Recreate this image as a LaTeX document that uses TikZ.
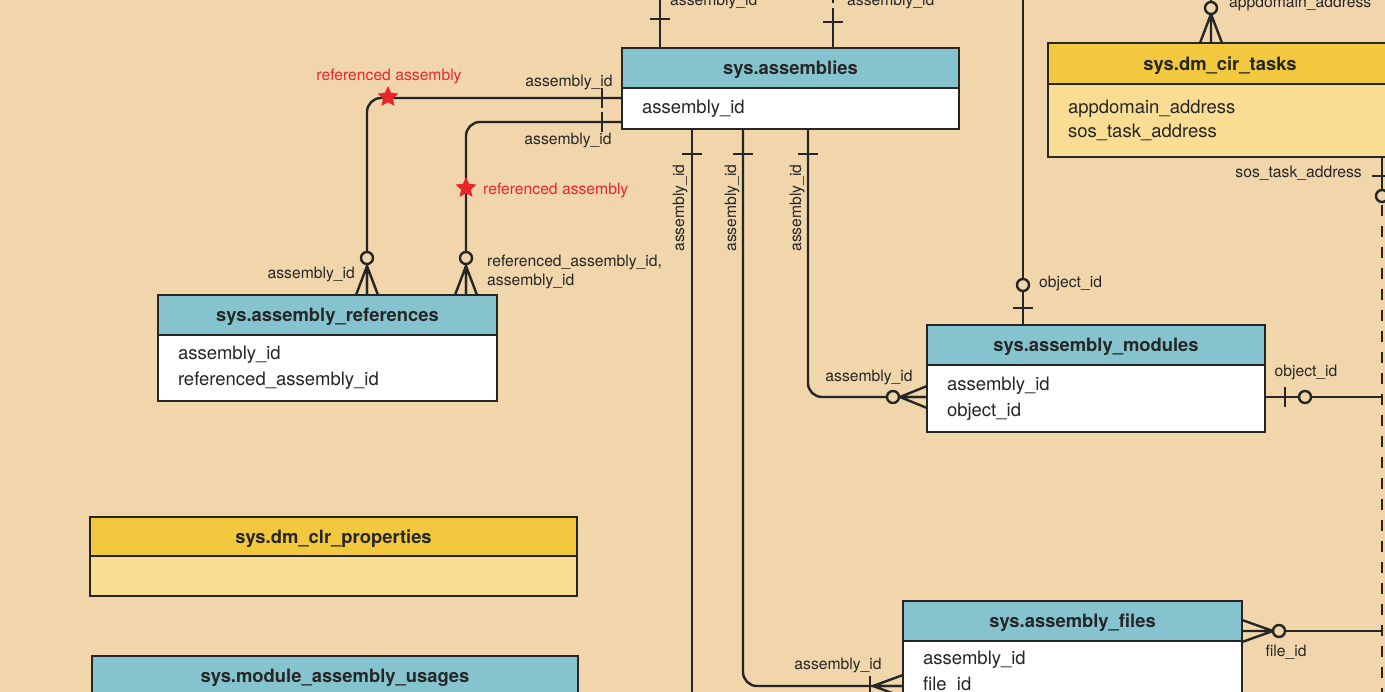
\documentclass[tikz,border=0pt]{standalone}
\usepackage{fontspec}
\setmainfont{TeX Gyre Heros}
\usetikzlibrary{positioning,shapes.geometric}

\definecolor{page}{RGB}{241,214,172}
\definecolor{tablehead}{RGB}{133,196,206}
\definecolor{dmvhead}{RGB}{242,200,62}
\definecolor{dmvbody}{RGB}{248,221,146}
\definecolor{ink}{RGB}{38,38,38}
\definecolor{note}{RGB}{232,38,44}
\def\titlefont{\fontsize{18.4}{22}\selectfont\bfseries}
\def\fieldfont{\fontsize{18.5}{26}\selectfont}
\def\labelfont{\fontsize{15.7}{19}\selectfont}
\tikzset{head/.style={draw=ink, line width=2.8pt, fill=tablehead, minimum height=40pt, text depth=0pt,
        inner sep=0pt, outer sep=0pt, font=\titlefont, text=ink, anchor=north west},
    fields/.style={draw=ink, line width=2.8pt, fill=white, inner xsep=20pt, inner ysep=0pt,
        outer sep=0pt, font=\fieldfont, text=ink, align=left},
    link/.style={draw=ink, line width=2.4pt, rounded corners=14pt},
    keylabel/.style={font=\labelfont, text=ink, inner sep=0pt},
    notelabel/.style={font=\labelfont, text=note, inner sep=0pt},
    refstar/.style={star, star points=5, star point ratio=2.1, fill=note, inner sep=0pt, minimum size=22pt},
    onebar/.pic={\draw[ink, line width=2.4pt] (#1,-10) -- (#1,10);},
    ring/.pic={\draw[ink, line width=2.4pt, fill=page] (#1,0) circle (6pt);},
    crowfoot/.pic={\draw[ink, line width=2.4pt] (0,-11) -- (#1,0) -- (0,11) (0,0) -- (#1,0);}}

\begin{document}
\begin{tikzpicture}[x=1pt, y=-1pt]
\useasboundingbox[fill=page] (0,0) rectangle (1385,692);

% tables
\node[head, minimum width=337pt] (asm) at (622,48) {sys.assemblies};
\node[fields, below=0pt of asm, text width=297pt, minimum height=41pt] (asmf) {assembly\_id};
\node[head, minimum width=339pt] (ref) at (158,295) {sys.assembly\_references};
\node[fields, below=0pt of ref, text width=299pt, minimum height=66pt] (reff) {assembly\_id\\referenced\_assembly\_id};
\node[head, minimum width=338pt] (mod) at (927,325) {sys.assembly\_modules};
\node[fields, below=0pt of mod, text width=298pt, minimum height=67pt] (modf) {assembly\_id\\object\_id};
\node[head, fill=dmvhead, minimum width=344pt, minimum height=41pt] (task) at (1048,43) {sys.dm\_cir\_tasks};
\node[fields, fill=dmvbody, below=0pt of task, text width=304pt, minimum height=73pt,
    font=\fontsize{18.5}{24}\selectfont] (taskf) {appdomain\_address\\sos\_task\_address\\[3pt]};
\node[head, minimum width=339pt] (files) at (903,601) {sys.assembly\_files};
\node[fields, below=0pt of files, text width=299pt, minimum height=62pt] (filesf) {assembly\_id\\file\_id};
\node[head, fill=dmvhead, minimum width=487pt, minimum height=39pt] (props) at (90,517) {sys.dm\_clr\_properties};
\node[fields, fill=dmvbody, below=0pt of props, text width=447pt, minimum height=40pt] (propsf) {};
\node[head, minimum width=486pt] (usage) at (92,656) {sys.module\_assembly\_usages};

% free ends at the page edge
\coordinate (top1) at (660,0);
\coordinate (top2) at (833,0);
\coordinate (top3) at (1023,0);
\coordinate (top4) at (1211,0);
\coordinate (low1) at (692,700);
\coordinate (low2) at (1382,700);
\coordinate (side1) at (1382,397);
\coordinate (side2) at (1382,631);

% connectors
\draw[link] (asmf.west |- 0,98) -| (ref.north -| 367,0);
\draw[link] (asmf.west |- 0,122) -| (ref.north -| 466,0);
\draw[link] (asm.north -| top1) -- (top1);
\draw[link, dash pattern=on 40pt off 5pt on 10pt] (asm.north -| top2) -- (top2);
\draw[link] (asmf.south -| low1) -- (low1);
\draw[link] (asmf.south -| 743,0) |- (filesf.west |- 0,686);
\draw[link] (asmf.south -| 808,0) |- (modf.west |- 0,397);
\draw[link] (mod.north -| top3) -- (top3);
\draw[link] (modf.east |- side1) -- (side1);
\draw[link] (task.north -| top4) -- (top4);
\draw[link] (taskf.south -| low2) -- ++(0,39);
\draw[link, dash pattern=on 11pt off 10pt] (taskf.south -| low2) ++(0,48) -- (low2);
\draw[link] (files.east |- side2) -- (side2);

% ends
\pic[rotate=180] at (asmf.west |- 0,98) {onebar=20};
\pic[rotate=180] at (asmf.west |- 0,122) {onebar=20};
\pic[rotate=90] at (asm.north -| top1) {onebar=29};
\pic[rotate=90] at (asm.north -| top2) {onebar=26};
\pic[rotate=-90] at (asmf.south -| low1) {onebar=25};
\pic[rotate=-90] at (asmf.south -| 743,0) {onebar=25};
\pic[rotate=-90] at (asmf.south -| 808,0) {onebar=25};
\foreach \x in {367,466} {
    \pic[rotate=90] at (ref.north -| \x,0) {crowfoot=29};
    \pic[rotate=90] at (ref.north -| \x,0) {ring=37};
}
\pic[rotate=180] at (modf.west |- 0,397) {crowfoot=27};
\pic[rotate=180] at (modf.west |- 0,397) {ring=34};
\pic[rotate=90] at (mod.north -| top3) {onebar=17};
\pic[rotate=90] at (mod.north -| top3) {ring=40};
\pic at (modf.east |- side1) {onebar=20};
\pic at (modf.east |- side1) {ring=40};
\pic[rotate=90] at (task.north -| top4) {crowfoot=29};
\pic[rotate=90] at (task.north -| top4) {ring=35};
\pic[rotate=-90] at (taskf.south -| low2) {onebar=19};
\pic[rotate=-90] at (taskf.south -| low2) {ring=39};
\pic at (files.east |- side2) {crowfoot=31};
\pic at (files.east |- side2) {ring=37};
\pic[rotate=180] at (filesf.west |- 0,686) {crowfoot=30};
\pic[rotate=180] at (filesf.west |- 0,686) {onebar=33};

% labels
\node[refstar] (star1) at (388,97) {};
\node[notelabel] (note1) at (389,76) {referenced assembly};
\node[refstar] (star2) at (466,188) {};
\node[notelabel, anchor=west] (note2) at (483,190) {referenced assembly};
\node[keylabel] (k1) at (569,82) {assembly\_id};
\node[keylabel] (k2) at (568,140) {assembly\_id};
\node[keylabel, anchor=east] (k3) at (355,274) {assembly\_id};
\node[keylabel, anchor=west, align=left] (k4) at (487,272) {referenced\_assembly\_id,\\assembly\_id};
\node[keylabel, anchor=west] (k5) at (670,1) {assembly\_id};
\node[keylabel, anchor=west] (k6) at (847,1) {assembly\_id};
\foreach \x in {680,732,797}
    \node[keylabel, rotate=90] at (\x,208) {assembly\_id};
\node[keylabel, anchor=west] (k7) at (1039,283) {object\_id};
\node[keylabel] (k8) at (869,377) {assembly\_id};
\node[keylabel] (k9) at (1306,372) {object\_id};
\node[keylabel, anchor=west] (k10) at (1229,3) {appdomain\_address};
\node[keylabel, anchor=east] (k11) at (1362,173) {sos\_task\_address};
\node[keylabel] (k12) at (1286,652) {file\_id};
\node[keylabel] (k13) at (838,665) {assembly\_id};
\end{tikzpicture}
\end{document}
